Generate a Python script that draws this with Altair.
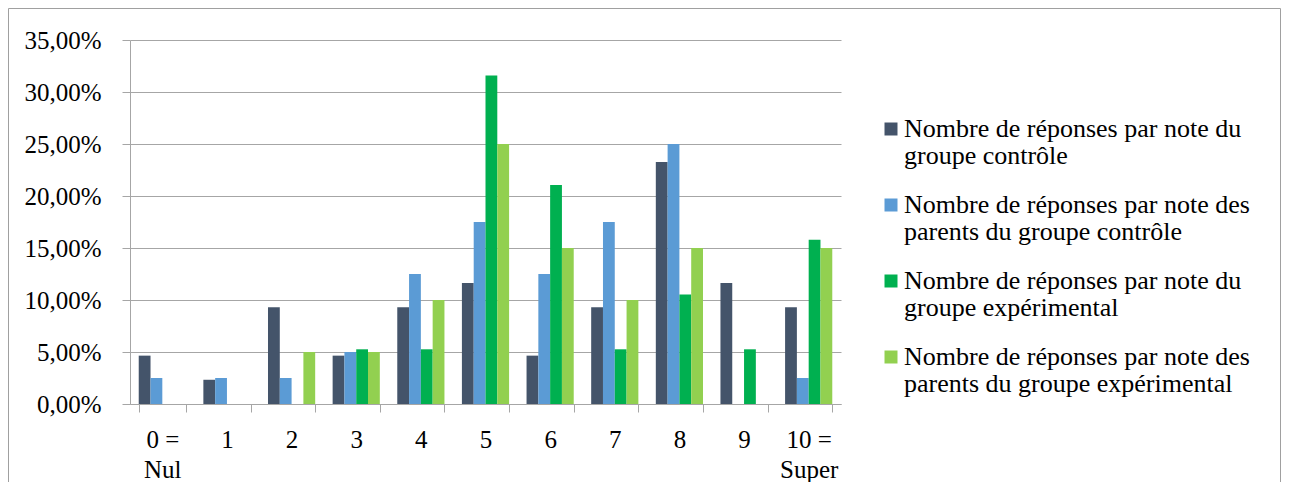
import altair as alt
import pandas as pd

categories = ["0 =\nNul", "1", "2", "3", "4", "5", "6", "7", "8", "9", "10 =\nSuper"]
series = [
    "Nombre de réponses par note du\ngroupe contrôle",
    "Nombre de réponses par note des\nparents du groupe contrôle",
    "Nombre de réponses par note du\ngroupe expérimental",
    "Nombre de réponses par note des\nparents du groupe expérimental",
]
colors = ["#44546A", "#5B9BD5", "#00B050", "#92D050"]

ctrl = [0.0465, 0.0233, 0.0930, 0.0465, 0.0930, 0.1163, 0.0465, 0.0930, 0.2326, 0.1163, 0.0930]
par_ctrl = [0.025, 0.025, 0.025, 0.05, 0.125, 0.175, 0.125, 0.175, 0.25, 0.0, 0.025]
exp = [0.0, 0.0, 0.0, 0.0526, 0.0526, 0.3158, 0.2105, 0.0526, 0.1053, 0.0526, 0.1579]
par_exp = [0.0, 0.0, 0.05, 0.05, 0.10, 0.25, 0.15, 0.10, 0.15, 0.0, 0.15]

y_ticks = [0, 0.05, 0.10, 0.15, 0.20, 0.25, 0.30, 0.35]

rows = []
for s, vals in zip(series, [ctrl, par_ctrl, exp, par_exp]):
    for c, v in zip(categories, vals):
        rows.append({"note": c, "serie": s, "pct": v})
df = pd.DataFrame(rows)

FONT = "Liberation Serif"
GRAY = "#a6a6a6"

bars = alt.Chart(df).mark_bar().encode(
    x=alt.X("note:N", sort=categories, title=None,
            scale=alt.Scale(paddingInner=0.27, paddingOuter=0.135),
            axis=alt.Axis(labelAngle=0,
                          labelExpr="isValid(datum.value) ? split(datum.value, '\\n') : ''",
                          labelLineHeight=30, labelFontSize=25, labelFont=FONT,
                          labelColor="black", labelPadding=15, labelBaseline="top",
                          tickBand="extent", tickSize=8, tickColor=GRAY,
                          domainColor=GRAY, grid=False)),
    xOffset=alt.XOffset("serie:N", sort=series, scale=alt.Scale(paddingInner=0, paddingOuter=0)),
    y=alt.Y("pct:Q", title=None,
            scale=alt.Scale(domain=[0, 0.35], nice=False),
            axis=alt.Axis(values=y_ticks,
                          labelExpr="replace(format(datum.value, '.2%'), '.', ',')",
                          labelFontSize=25, labelFont=FONT, labelColor="black",
                          labelPadding=21, tickSize=8, tickColor=GRAY,
                          domainColor=GRAY, gridColor=GRAY, grid=True)),
    color=alt.Color("serie:N", sort=series,
                    scale=alt.Scale(domain=series, range=colors),
                    legend=alt.Legend(title=None, orient="none", legendX=744, legendY=76,
                                      direction="vertical",
                                      labelExpr="split(datum.label, '\\n')",
                                      symbolType="square", symbolSize=169,
                                      symbolStrokeWidth=0, symbolOffset=4,
                                      labelFontSize=26,
                                      labelFont=FONT, labelColor="black",
                                      labelBaseline="middle", labelOffset=0,
                                      rowPadding=23, labelLimit=500, padding=0)),
)

border = alt.Chart(alt.Data(values=[{"b": 1}])).mark_rect(
    filled=False, stroke="#a0a0a0", strokeWidth=1
).encode(
    x=alt.value(-121.5), x2=alt.value(1150.5),
    y=alt.value(-31.5), y2=alt.value(480),
)

chart = alt.layer(bars, border).properties(
    width=711, height=364,
    autosize=alt.AutoSizeParams(type="none"),
    padding={"left": 122, "top": 32, "right": 440, "bottom": 78},
).configure(
    background="white",
    style={"guide-label": {"lineHeight": 27}},
).configure_view(stroke=None)

chart.save("out.html", embed_options={"renderer": "svg", "actions": False})
